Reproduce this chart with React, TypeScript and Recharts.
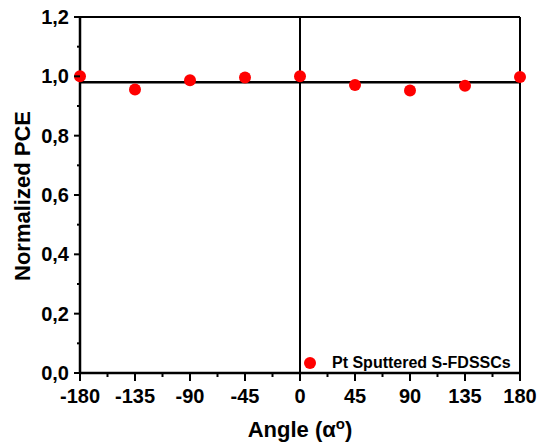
import { ScatterChart, Scatter, XAxis, YAxis, ReferenceLine } from 'recharts';

// measured values (normalized PCE vs bending angle)
const angles = [-180, -135, -90, -45, 0, 45, 90, 135, 180];
const pce = [1.0, 0.956, 0.987, 0.996, 1.0, 0.971, 0.952, 0.968, 0.998];
const baseline = 0.98;

const majorX = [-180, -135, -90, -45, 0, 45, 90, 135, 180];
const minorX = [-157.5, -112.5, -67.5, -22.5, 22.5, 67.5, 112.5, 157.5];
const majorY = [0, 0.2, 0.4, 0.6, 0.8, 1.0, 1.2];
const minorY = [0.1, 0.3, 0.5, 0.7, 0.9, 1.1];

const seriesName = 'Pt Sputtered S-FDSSCs';

const data = angles.map((a, i) => ({ angle: a, pce: pce[i] }));
const xTicks = [...majorX, ...minorX].sort((a, b) => a - b);
const yTicks = [...majorY, ...minorY].sort((a, b) => a - b);

const font = '"Liberation Sans", Arial, sans-serif';

const fmt = (v: number) => v.toFixed(1).replace('.', ',');

const XTick = ({ x, y, payload }: any) => {
  const major = majorX.includes(payload.value);
  return (
    <g>
      <line x1={x} x2={x} y1={y} y2={y + (major ? 8 : 4)} stroke="#000" strokeWidth={2} />
      {major && (
        <text x={x} y={y + 30} textAnchor="middle" fontFamily={font} fontWeight="bold" fontSize={20} fill="#000">
          {payload.value}
        </text>
      )}
    </g>
  );
};

const YTick = ({ x, y, payload }: any) => {
  const major = majorY.some((m) => Math.abs(m - payload.value) < 1e-6);
  return (
    <g>
      <line x1={x} x2={x - (major ? 6 : 3)} y1={y} y2={y} stroke="#000" strokeWidth={2} />
      {major && (
        <text x={x - 11} y={y + 7} textAnchor="end" fontFamily={font} fontWeight="bold" fontSize={20} fill="#000">
          {fmt(payload.value)}
        </text>
      )}
    </g>
  );
};

export default function App() {
  return (
    <div style={{ position: 'absolute', left: 0, top: 0, width: 540, height: 448, background: '#fff' }}>
      <ScatterChart width={540} height={448} margin={{ top: 17, right: 20, left: 0, bottom: 25 }}>
        <XAxis
          type="number"
          dataKey="angle"
          domain={[-180, 180]}
          ticks={xTicks}
          interval={0}
          tick={<XTick />}
          tickLine={false}
          tickSize={0}
          tickMargin={0}
          height={50}
          axisLine={{ stroke: '#000', strokeWidth: 2.5 }}
          label={{
            content: () => (
              <text x={300} y={437} textAnchor="middle" fontFamily={font} fontWeight="bold" fontSize={22} fill="#000">
                Angle (α<tspan dy={-8} fontSize={15}>o</tspan><tspan dy={8}>)</tspan>
              </text>
            ),
          }}
        />
        <YAxis
          type="number"
          dataKey="pce"
          domain={[0, 1.2]}
          ticks={yTicks}
          interval={0}
          tick={<YTick />}
          tickLine={false}
          tickSize={0}
          tickMargin={0}
          width={80}
          axisLine={{ stroke: '#000', strokeWidth: 2.5 }}
          label={{
            content: () => (
              <text
                x={30}
                y={196}
                transform="rotate(-90 30 196)"
                textAnchor="middle"
                fontFamily={font}
                fontWeight="bold"
                fontSize={22}
                fill="#000"
              >
                Normalized PCE
              </text>
            ),
          }}
        />
        <ReferenceLine y={1.2} stroke="#000" strokeWidth={2} />
        <ReferenceLine x={180} stroke="#000" strokeWidth={2} />
        <ReferenceLine x={0} stroke="#000" strokeWidth={2} />
        <ReferenceLine y={baseline} stroke="#000" strokeWidth={2.5} />
        <Scatter
          data={data}
          isAnimationActive={false}
          shape={(p: any) => <circle cx={p.cx} cy={p.cy} r={6} fill="#ff0000" />}
        />
      </ScatterChart>
      <div
        style={{
          position: 'absolute',
          left: 304,
          top: 354,
          display: 'flex',
          alignItems: 'center',
          fontFamily: font,
          fontWeight: 'bold',
          fontSize: 16,
          color: '#000',
        }}
      >
        <span style={{ width: 12, height: 12, borderRadius: 6, background: '#ff0000', marginRight: 16 }} />
        {seriesName}
      </div>
    </div>
  );
}
